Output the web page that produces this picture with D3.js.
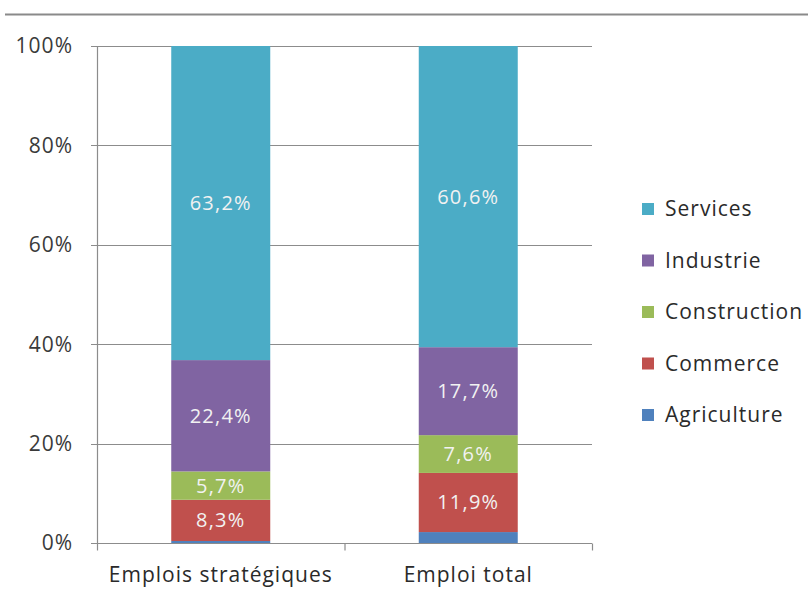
<!DOCTYPE html>
<html>
<head>
<meta charset="utf-8">
<script src="https://cdn.jsdelivr.net/npm/d3@7"></script>
<style>
  html, body { margin: 0; padding: 0; background: #fff; }
  text { font-family: "Open Sans", "DejaVu Sans", sans-serif; letter-spacing: 1px; }
</style>
</head>
<body>
<svg id="chart" width="808" height="590"></svg>
<script>
// Répartition des emplois par secteur (en %)
const categories = ["Emplois stratégiques", "Emploi total"];
const sectors = ["Agriculture", "Commerce", "Construction", "Industrie", "Services"];
const agriculture = [0.4, 2.2];
const commerce = [8.3, 11.9];
const construction = [5.7, 7.6];
const industrie = [22.4, 17.7];
const services = [63.2, 60.6];
const yTicks = [0, 20, 40, 60, 80, 100];
const colors = ["#4F81BD", "#C0504D", "#9BBB59", "#8064A2", "#4BACC6"];
const labelled = [false, true, true, true, true];

const seriesValues = [agriculture, commerce, construction, industrie, services];
const rows = categories.map((c, i) => {
  const r = { cat: c };
  sectors.forEach((s, k) => r[s] = seriesValues[k][i]);
  return r;
});

const svg = d3.select("#chart");
const margin = { left: 97, right: 216, top: 46, bottom: 47 };
const W = 808, H = 590;

// Filet horizontal en haut
svg.append("line")
  .attr("x1", 5).attr("x2", 808).attr("y1", 14.5).attr("y2", 14.5)
  .attr("stroke", "#8a8a8a").attr("stroke-width", 2);

const x = d3.scaleBand().domain(categories)
  .range([margin.left, W - margin.right]).paddingInner(0.6).paddingOuter(0.3);
const y = d3.scaleLinear().domain([0, 100]).range([H - margin.bottom, margin.top]);

// Quadrillage
svg.append("g").selectAll("line").data(yTicks).join("line")
  .attr("x1", margin.left - 6).attr("x2", W - margin.right)
  .attr("y1", d => Math.round(y(d)) + 0.5).attr("y2", d => Math.round(y(d)) + 0.5)
  .attr("stroke", "#8c8c8c").attr("stroke-width", 1.2);

// Axe vertical
svg.append("line")
  .attr("x1", margin.left + 0.5).attr("x2", margin.left + 0.5)
  .attr("y1", y(100)).attr("y2", y(0))
  .attr("stroke", "#8c8c8c").attr("stroke-width", 1.2);

// Libellés de l'axe des ordonnées
svg.append("g").selectAll("text").data(yTicks).join("text")
  .attr("x", 73).attr("y", d => y(d))
  .attr("dy", "0.35em").attr("text-anchor", "end")
  .attr("font-size", 21).attr("fill", "#3a3a3a")
  .text(d => d + "%");

// Barres empilées
const stack = d3.stack().keys(sectors)(rows);
const layers = svg.append("g").selectAll("g").data(stack).join("g")
  .attr("fill", (d, i) => colors[i]);
layers.selectAll("rect").data(d => d).join("rect")
  .attr("x", d => x(d.data.cat))
  .attr("width", x.bandwidth())
  .attr("y", d => y(d[1]))
  .attr("height", d => y(d[0]) - y(d[1]));

// Étiquettes de valeurs
const fmt = v => d3.format(".1f")(v).replace(".", ",") + "%";
stack.forEach((layer, i) => {
  if (!labelled[i]) return;
  svg.append("g").selectAll("text").data(layer).join("text")
    .attr("x", d => x(d.data.cat) + x.bandwidth() / 2)
    .attr("y", d => (y(d[0]) + y(d[1])) / 2)
    .attr("dy", "0.35em").attr("text-anchor", "middle")
    .attr("font-size", 20).attr("fill", "#f2f2f2")
    .style("letter-spacing", "1.2px")
    .text(d => fmt(d[1] - d[0]));
});

// Axe des abscisses avec graduations entre les catégories
const x0 = margin.left, x1 = W - margin.right;
const baseY = Math.round(y(0)) + 0.5;
svg.append("line").attr("x1", x0).attr("x2", x1)
  .attr("y1", baseY).attr("y2", baseY)
  .attr("stroke", "#8c8c8c").attr("stroke-width", 1.2);
const step = (x1 - x0) / categories.length;
svg.append("g").selectAll("line").data(d3.range(categories.length + 1)).join("line")
  .attr("x1", i => x0 + 0.5 + i * step).attr("x2", i => x0 + 0.5 + i * step)
  .attr("y1", baseY).attr("y2", baseY + 7)
  .attr("stroke", "#8c8c8c").attr("stroke-width", 1.2);
svg.append("g").selectAll("text").data(categories).join("text")
  .attr("x", d => x(d) + x.bandwidth() / 2).attr("y", 582)
  .attr("text-anchor", "middle").attr("font-size", 21).attr("fill", "#2a2a2a")
  .text(d => d);

// Légende
const legendOrder = sectors.map((s, i) => ({ s, c: colors[i] })).reverse();
const lg = svg.append("g").selectAll("g").data(legendOrder).join("g")
  .attr("transform", (d, i) => `translate(642, ${209 + i * 51.5})`);
lg.append("rect").attr("x", 0).attr("y", -6).attr("width", 12).attr("height", 12)
  .attr("fill", d => d.c);
lg.append("text").attr("x", 23).attr("dy", "0.35em")
  .attr("font-size", 21).attr("fill", "#2a2a2a").text(d => d.s);
</script>
</body>
</html>
